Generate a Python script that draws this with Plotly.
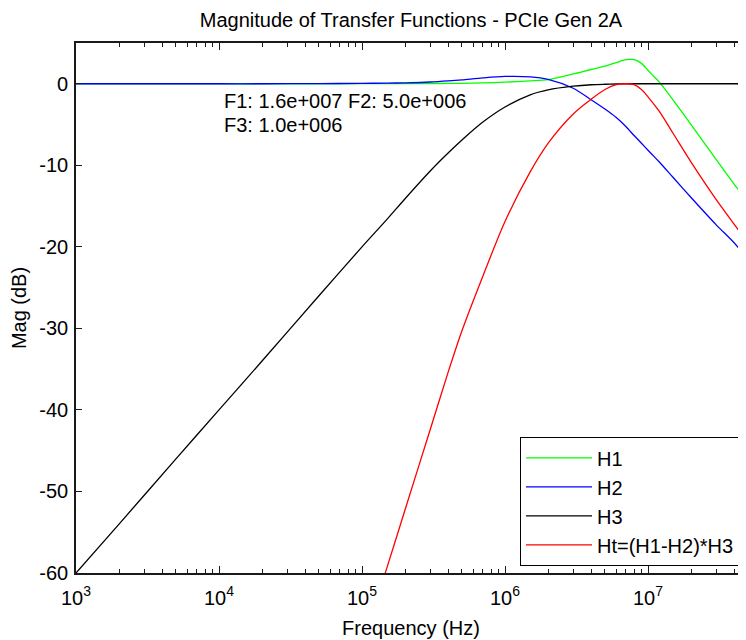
import plotly.graph_objects as go

# ---- data ----
freq_hz = [1e3, 2e3, 5e3, 1e4, 2e4, 5e4, 1e5, 1.5e5, 2e5, 3e5, 4e5, 5e5, 7e5, 1e6, 1.5e6, 2e6,
           3e6, 4e6, 5e6, 6e6, 7e6, 8e6, 9e6, 1e7, 1.1e7, 1.2e7, 1.5e7, 2e7, 3e7, 4e7, 5e7]

h1_db = [0, 0, 0, 0, 0, 0, 0.01, 0.015, 0.02, 0.03, 0.04, 0.06, 0.1, 0.2, 0.35, 0.5,
         1.2, 1.75, 2.15, 2.6, 2.95, 2.95, 2.5, 1.65, 0.9, 0.2, -2.0, -5.0, -9.3, -12.3, -14.4]

h2_db = [0, 0, 0, 0, 0, 0.02, 0.05, 0.08, 0.12, 0.22, 0.35, 0.48, 0.72, 0.9, 0.85, 0.55,
         -0.55, -1.95, -3.1, -4.15, -5.25, -6.35, -7.3, -8.15, -8.9, -9.6, -11.5, -13.95, -17.3, -19.5, -21.5]

h3_db = [-60, -54, -46, -40, -34, -26, -20.0, -16.6, -14.1, -10.7, -8.5, -6.9, -4.7, -2.85, -1.35, -0.75,
         -0.3, -0.12, -0.06, -0.03, 0, 0, 0, 0, 0, 0, 0, 0, 0, 0, 0]

ht_freq_hz = [1.2e5, 1.5e5, 2e5, 3e5, 4e5, 5e5, 7e5, 1e6, 1.5e6, 2e6, 3e6, 4e6, 5e6,
              6e6, 7e6, 8e6, 9e6, 1e7, 1.2e7, 1.5e7, 2e7, 3e7, 4e7, 5e7]
ht_db = [-64.7, -59.25, -52.25, -42.4, -35.4, -30.3, -23.6, -16.9, -10.8, -7.3, -3.7, -1.9, -0.7,
         -0.1, 0, -0.1, -0.7, -1.6, -3.4, -6.1, -9.6, -14.2, -17.2, -19.5]

series_names = ["H1", "H2", "H3", "Ht=(H1-H2)*H3"]
series_colors = ["#00ff00", "#0000ff", "#000000", "#ff0000"]

x_major = [1e3, 1e4, 1e5, 1e6, 1e7]
x_major_text = ["10<sup>3</sup>", "10<sup>4</sup>", "10<sup>5</sup>", "10<sup>6</sup>", "10<sup>7</sup>"]
x_minor = [k * 10 ** e for e in range(3, 8) for k in range(2, 10)]
y_ticks = [-60, -50, -40, -30, -20, -10, 0]
y_tick_text = ["-60", "-50", "-40", "-30", "-20", "-10", "0"]

title_text = "Magnitude of Transfer Functions - PCIe Gen 2A"
note_lines = ["F1: 1.6e+007 F2: 5.0e+006", "F3: 1.0e+006"]

FONT = "Liberation Sans, Arial, sans-serif"
FS = 20
AX = "#1a1a1a"

# page has an 8px body margin: the figure is laid out so that the page matches the reference
OFF = 8
W, H = 746 - OFF, 640 - OFF
PX_PER_DEC = 143.0
PX_PER_DB = 8.167
PLOT_L, PLOT_T, PLOT_B = 76, 43, 573   # page coordinates

fig = go.Figure()
xs = [freq_hz, freq_hz, freq_hz, ht_freq_hz]
ys = [h1_db, h2_db, h3_db, ht_db]
for name, col, x, y in zip(series_names, series_colors, xs, ys):
    fig.add_trace(go.Scatter(x=x, y=y, mode="lines", name=name,
                             line=dict(color=col, width=1.3, shape="spline", smoothing=0.8)))

plot_w = W - (PLOT_L - OFF)
plot_h = PLOT_B - PLOT_T

fig.update_layout(
    width=W, height=H,
    margin=dict(l=PLOT_L - OFF, r=0, t=PLOT_T - OFF, b=H - (PLOT_B - OFF), autoexpand=False),
    paper_bgcolor="white", plot_bgcolor="white",
    font=dict(family=FONT, size=FS, color="black"),
    title=dict(text=title_text, x=0.5, xref="paper", xanchor="center",
               y=1 - (20 - OFF) / H, yref="container", yanchor="middle",
               font=dict(family=FONT, size=FS, color="black")),
    showlegend=True,
    legend=dict(x=(739.7 - PLOT_L) / plot_w, y=(PLOT_B - 566) / plot_h,
                xanchor="right", yanchor="bottom",
                bgcolor="white", bordercolor="black", borderwidth=1.3,
                font=dict(family=FONT, size=FS, color="black"),
                itemwidth=66, tracegroupgap=0),
)

fig.update_xaxes(
    type="log", range=[3, 3 + plot_w / PX_PER_DEC], automargin=False,
    tickmode="array", tickvals=x_major, ticktext=x_major_text,
    ticks="inside", ticklen=7, tickwidth=1.3, tickcolor=AX,
    minor=dict(ticks="inside", ticklen=4, tickwidth=1.3, tickcolor=AX,
               tickmode="array", tickvals=x_minor, showgrid=False),
    showline=True, linecolor=AX, linewidth=1.6, mirror="ticks",
    showgrid=False, zeroline=False,
    tickfont=dict(family=FONT, size=FS, color="black"),
    ticklabelstandoff=6,
    title=dict(text="Frequency (Hz)", standoff=13, font=dict(family=FONT, size=FS, color="black")),
)
fig.update_yaxes(
    range=[-60, 5], automargin=False,
    tickmode="array", tickvals=y_ticks, ticktext=y_tick_text,
    ticks="inside", ticklen=6, tickwidth=1.3, tickcolor=AX,
    showline=True, linecolor=AX, linewidth=1.6, mirror="ticks",
    showgrid=False, zeroline=False,
    tickfont=dict(family=FONT, size=FS, color="black"),
    ticklabelstandoff=2,
    title=dict(text="Mag (dB)", standoff=9, font=dict(family=FONT, size=FS, color="black")),
)

note_x = 3 + (222 - PLOT_L) / PX_PER_DEC
for line, ypx in zip(note_lines, [101, 125]):
    fig.add_annotation(x=note_x, y=(83.3 - ypx) / PX_PER_DB, xref="x", yref="y",
                       text=line, showarrow=False, xanchor="left", yanchor="middle",
                       align="left", font=dict(family=FONT, size=FS, color="black"))

fig.write_html("out.html")
